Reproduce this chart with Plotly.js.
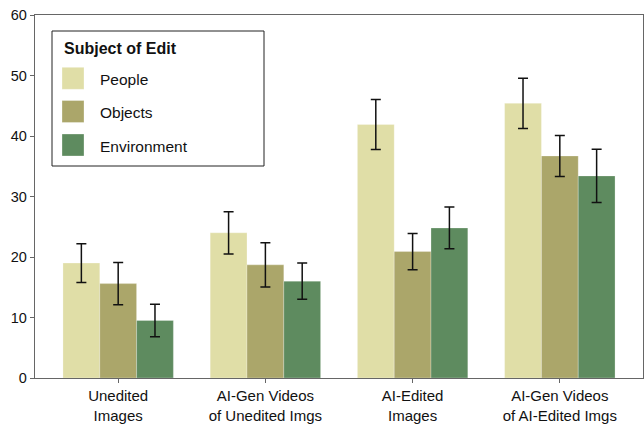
<!DOCTYPE html>
<html>
<head>
<meta charset="utf-8">
<script src="https://cdn.plot.ly/plotly-3.0.1.min.js"></script>
<style>html,body{margin:0;padding:0;background:#fff;}#chart{width:644px;height:424px;}</style>
</head>
<body>
<div id="chart"></div>
<script>
const categories = ["Unedited<br>Images", "AI-Gen Videos<br>of Unedited Imgs", "AI-Edited<br>Images", "AI-Gen Videos<br>of AI-Edited Imgs"];
const seriesNames = ["People", "Objects", "Environment"];
const legendTitle = "Subject of Edit";
const peopleValues = [19.0, 24.0, 41.9, 45.4];
const peopleErrors = [3.2, 3.5, 4.15, 4.15];
const objectsValues = [15.6, 18.7, 20.9, 36.7];
const objectsErrors = [3.5, 3.65, 3.0, 3.4];
const environmentValues = [9.5, 16.0, 24.8, 33.4];
const environmentErrors = [2.7, 3.0, 3.45, 4.4];
const yTicks = [0, 10, 20, 30, 40, 50, 60];

const colors = ["#E0DEA7", "#ABA66A", "#5E8B5F"];
const vals = [peopleValues, objectsValues, environmentValues];
const errs = [peopleErrors, objectsErrors, environmentErrors];

const traces = seriesNames.map((name, i) => ({
  type: "bar",
  name: name,
  x: categories,
  y: vals[i],
  marker: {color: colors[i], line: {color: "rgba(255,255,255,0.5)", width: 0.5}},
  error_y: {type: "data", array: errs[i], visible: true, color: "#111", thickness: 1.5, width: 5}
}));

const font = "Liberation Sans, Arial, sans-serif";

// custom legend box (paper coordinates), since native legend swatches are fixed small
const L = 35, T = 15, W = 608, H = 363;
const px = v => (v - L) / W;
const py = v => (T + H - v) / H;
const shapes = [
  {type: "rect", xref: "paper", yref: "paper", x0: px(52), x1: px(264), y0: py(166), y1: py(31),
   line: {color: "#222", width: 1}, fillcolor: "#fff", layer: "above"}
];
const annotations = [
  {xref: "paper", yref: "paper", x: px(62), y: py(49), xanchor: "left", yanchor: "middle",
   text: "<b>" + legendTitle + "</b>", showarrow: false, font: {family: font, size: 16, color: "#111"}}
];
const rowCenters = [78.3, 111.5, 145];
seriesNames.forEach((n, i) => {
  shapes.push({type: "rect", xref: "paper", yref: "paper", x0: px(62), x1: px(84),
    y0: py(rowCenters[i] + 11), y1: py(rowCenters[i] - 11),
    line: {color: "rgba(255,255,255,0.6)", width: 0.5}, fillcolor: colors[i], layer: "above"});
  annotations.push({xref: "paper", yref: "paper", x: px(98), y: py(rowCenters[i] + 1), xanchor: "left", yanchor: "middle",
    text: n, showarrow: false, font: {family: font, size: 15.5, color: "#111"}});
});

const layout = {
  width: 644, height: 424,
  margin: {l: 35, r: 1, t: 15, b: 46},
  paper_bgcolor: "#fff", plot_bgcolor: "#fff",
  font: {family: font, size: 14, color: "#111"},
  barmode: "group", bargap: 0.25, bargroupgap: 0,
  showlegend: false,
  shapes: shapes,
  annotations: annotations,
  xaxis: {
    type: "category", range: [-0.565, 3.565],
    showline: true, linecolor: "#666", linewidth: 1.2, mirror: true,
    ticks: "outside", ticklen: 4, tickcolor: "#666",
    tickfont: {family: font, size: 15, color: "#111"}, showgrid: false, zeroline: false
  },
  yaxis: {
    range: [0, 60], tickvals: yTicks, ticktext: yTicks.map(String),
    showline: true, linecolor: "#666", linewidth: 1.2, mirror: true,
    ticks: "outside", ticklen: 4, tickcolor: "#666",
    tickfont: {family: font, size: 14.5, color: "#111"}, showgrid: false, zeroline: false
  }
};
Plotly.newPlot("chart", traces, layout, {displayModeBar: false, staticPlot: true});
</script>
</body>
</html>
